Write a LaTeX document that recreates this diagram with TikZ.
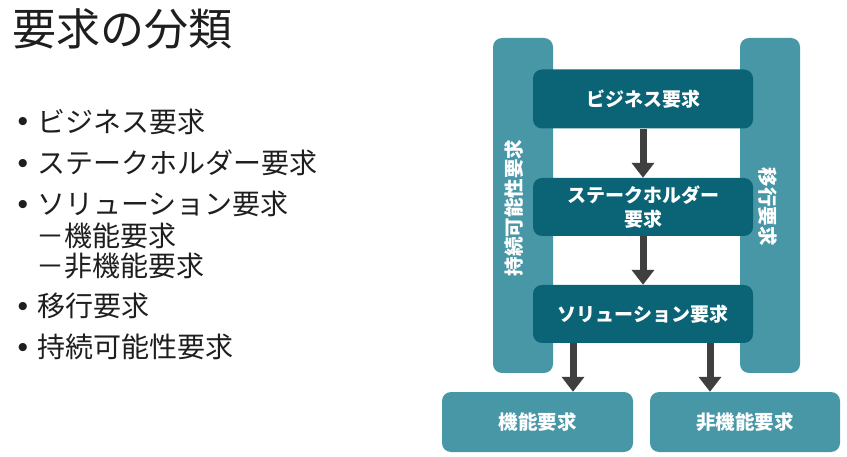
\documentclass[tikz,border=0pt]{standalone}
\usepackage{fontspec}
\newfontfamily\jp{Noto Sans CJK JP}
\newfontfamily\lat{Liberation Sans}
\usetikzlibrary{arrows.meta}
\definecolor{darkteal}{HTML}{0A6475}
\definecolor{lightteal}{HTML}{4797A7}
\definecolor{arrowgray}{HTML}{3F3F3F}
\definecolor{txt}{HTML}{1E1E1E}
\tikzset{
  pillar/.style={fill=lightteal, rounded corners=9pt},
  darkbox/.style={fill=darkteal, rounded corners=9pt, text=white, font=\jp\bfseries\fontsize{19}{24}\selectfont, align=center},
  lowbox/.style={fill=lightteal, rounded corners=9pt, text=white, font=\jp\bfseries\fontsize{19.5}{23}\selectfont},
  piltext/.style={text=white, font=\jp\bfseries\fontsize{19.5}{22}\selectfont, inner sep=0pt},
  arr/.style={draw=arrowgray, line width=7pt, -{Triangle[width=22pt,length=15pt]}},
  item/.style={anchor=west, text=txt, font=\jp\fontsize{28}{30}\selectfont, inner sep=0pt},
  dot/.style={text=txt, font=\lat\fontsize{30}{32}\selectfont, inner sep=0pt},
}
\begin{document}
\begin{tikzpicture}[x=1pt,y=-1pt]
\useasboundingbox (0,0) rectangle (847,457);
% title
\node[anchor=west, text=txt, font=\jp\fontsize{44}{46}\selectfont, inner sep=0pt] (title) at (12,29) {要求の分類};
% bullets
\node[dot] (d1) at (23,125) {•};
\node[item] (t1) at (37,122) {ビジネス要求};
\node[dot] (d2) at (23,166) {•};
\node[item] (t2) at (37,163) {ステークホルダー要求};
\node[dot] (d3) at (23,207) {•};
\node[item] (t3) at (37,204) {ソリューション要求};
\node[item] (t4) at (36,236) {－機能要求};
\node[item] (t5) at (36,266) {－非機能要求};
\node[dot] (d6) at (23,309) {•};
\node[item] (t6) at (37,306) {移行要求};
\node[dot] (d7) at (23,350) {•};
\node[item] (t7) at (37,347) {持続可能性要求};
% pillars
\path[pillar] (493,38) rectangle (553,373);
\node[piltext, rotate=90] (lp) at (514,208) {持続可能性要求};
\path[pillar] (740,38) rectangle (800,373);
\node[piltext, rotate=-90] (rp) at (768,207) {移行要求};
% dark boxes
\node[darkbox, minimum width=220pt, minimum height=59pt] (biz) at (643,99) {ビジネス要求};
\node[darkbox, minimum width=220pt, minimum height=58pt] (stk) at (643,207) {ステークホルダー\\要求};
\node[darkbox, minimum width=220pt, minimum height=58pt] (sol) at (643,314) {ソリューション要求};
% lower boxes
\node[lowbox, minimum width=191pt, minimum height=60pt] (fr) at (537.5,422) {機能要求};
\node[lowbox, minimum width=190pt, minimum height=60pt] (nfr) at (745,422) {非機能要求};
% arrows
\coordinate (a1) at (573,0);
\coordinate (a2) at (710,0);
\draw[arr] (biz.south) -- (stk.north);
\draw[arr] (stk.south) -- (sol.north);
\draw[arr] (sol.south -| a1) -- (fr.north -| a1);
\draw[arr] (sol.south -| a2) -- (nfr.north -| a2);
\end{tikzpicture}
\end{document}
